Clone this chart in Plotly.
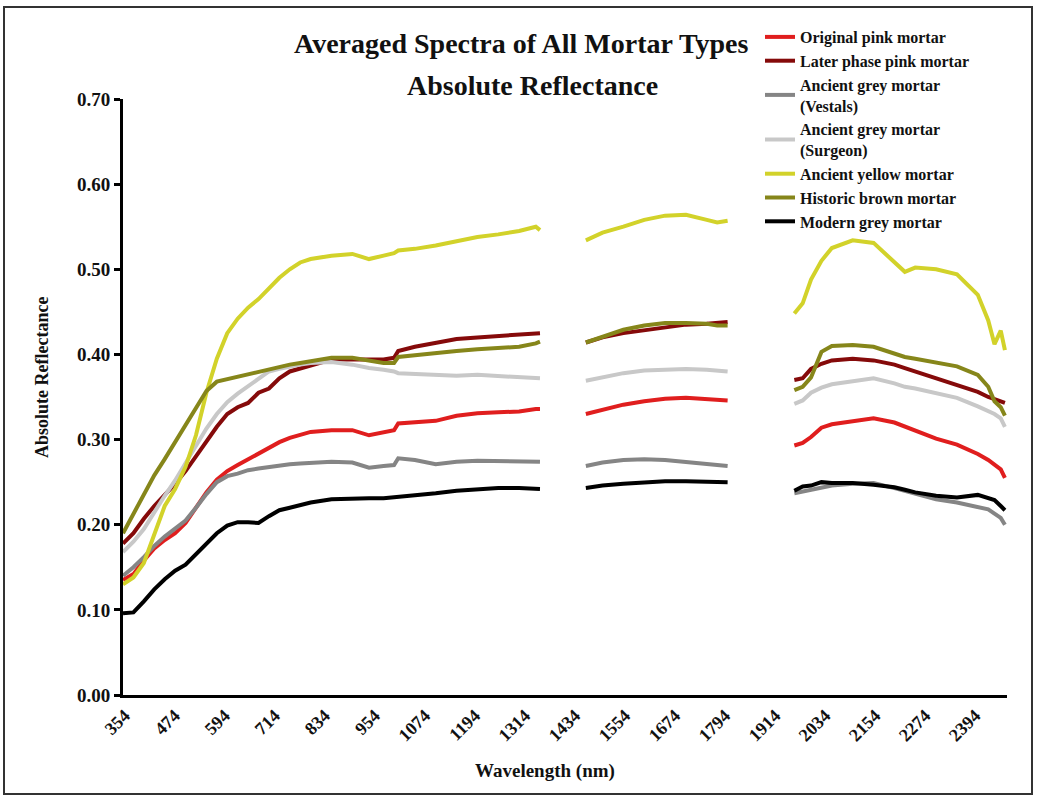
import plotly.graph_objects as go

# Wavelength grid (nm); None marks the removed water-absorption bands
wavelength = [350, 375, 400, 425, 450, 475, 500, 525, 550, 575, 600, 625, 650, 675, 700, 725, 750, 775, 800,
              850, 900, 940, 975, 1000, 1010, 1050, 1100, 1150, 1200, 1250, 1300, 1340, 1350,
              1400,
              1460, 1500, 1550, 1600, 1650, 1700, 1750, 1775, 1800,
              1880,
              1960, 1980, 2000, 2025, 2050, 2100, 2150, 2200, 2225, 2250, 2300, 2350, 2400, 2425, 2440, 2455, 2465]

original_pink = [0.135, 0.142, 0.158, 0.172, 0.182, 0.190, 0.202, 0.220, 0.238, 0.253, 0.263, 0.270, 0.277, 0.283, 0.290, 0.297, 0.302, 0.306, 0.309,
                 0.311, 0.311, 0.305, 0.309, 0.311, 0.319, 0.320, 0.322, 0.328, 0.331, 0.332, 0.333, 0.336, 0.336,
                 None,
                 0.330, 0.335, 0.341, 0.345, 0.348, 0.349, 0.348, 0.347, 0.346,
                 None,
                 0.293, 0.296, 0.303, 0.314, 0.318, 0.322, 0.325, 0.320, 0.315, 0.310, 0.301, 0.294, 0.283, 0.276, 0.270, 0.265, 0.255]

later_pink = [0.178, 0.190, 0.207, 0.222, 0.235, 0.248, 0.263, 0.280, 0.296, 0.315, 0.330, 0.338, 0.343, 0.355, 0.360, 0.372, 0.380, 0.384, 0.387,
              0.394, 0.394, 0.394, 0.394, 0.396, 0.404, 0.409, 0.414, 0.418, 0.420, 0.422, 0.424, 0.425, 0.425,
              None,
              0.414, 0.420, 0.425, 0.428, 0.432, 0.435, 0.436, 0.437, 0.438,
              None,
              0.370, 0.372, 0.383, 0.389, 0.393, 0.395, 0.393, 0.388, 0.384, 0.380, 0.371, 0.364, 0.356, 0.350, 0.347, 0.345, 0.343]

grey_vestals = [0.140, 0.150, 0.162, 0.175, 0.186, 0.195, 0.205, 0.220, 0.236, 0.250, 0.257, 0.260, 0.264, 0.266, 0.268, 0.270, 0.271, 0.272, 0.273,
                0.274, 0.273, 0.267, 0.269, 0.270, 0.278, 0.276, 0.271, 0.274, 0.275, 0.275, 0.275, 0.274, 0.274,
                None,
                0.269, 0.273, 0.276, 0.277, 0.276, 0.274, 0.272, 0.270, 0.269,
                None,
                0.237, 0.239, 0.242, 0.244, 0.246, 0.248, 0.249, 0.243, 0.240, 0.236, 0.230, 0.226, 0.221, 0.218, 0.213, 0.208, 0.200]

grey_surgeon = [0.168, 0.180, 0.195, 0.215, 0.234, 0.252, 0.272, 0.292, 0.313, 0.330, 0.344, 0.354, 0.363, 0.371, 0.380, 0.383, 0.386, 0.388, 0.390,
                0.391, 0.388, 0.384, 0.382, 0.380, 0.378, 0.377, 0.376, 0.375, 0.376, 0.375, 0.374, 0.373, 0.372,
                None,
                0.369, 0.373, 0.378, 0.381, 0.382, 0.383, 0.382, 0.381, 0.380,
                None,
                0.342, 0.346, 0.355, 0.361, 0.365, 0.369, 0.372, 0.366, 0.362, 0.360, 0.354, 0.349, 0.339, 0.334, 0.330, 0.325, 0.315]

yellow = [0.130, 0.138, 0.155, 0.190, 0.222, 0.242, 0.268, 0.305, 0.355, 0.395, 0.425, 0.442, 0.455, 0.465, 0.478, 0.490, 0.500, 0.508, 0.512,
          0.516, 0.518, 0.512, 0.516, 0.519, 0.522, 0.524, 0.528, 0.533, 0.538, 0.541, 0.545, 0.550, 0.546,
          None,
          0.534, 0.543, 0.550, 0.558, 0.563, 0.564, 0.558, 0.555, 0.557,
          None,
          0.448, 0.460, 0.488, 0.510, 0.525, 0.534, 0.531, 0.508, 0.497, 0.502, 0.500, 0.494, 0.470, 0.440, 0.412, 0.428, 0.405]

historic_brown = [0.190, 0.212, 0.235, 0.258, 0.277, 0.297, 0.316, 0.337, 0.357, 0.368, 0.371, 0.374, 0.377, 0.380, 0.383, 0.385, 0.388, 0.390, 0.392,
                  0.396, 0.396, 0.393, 0.390, 0.390, 0.397, 0.399, 0.402, 0.404, 0.406, 0.408, 0.409, 0.413, 0.415,
                  None,
                  0.414, 0.421, 0.429, 0.434, 0.437, 0.437, 0.436, 0.434, 0.434,
                  None,
                  0.358, 0.362, 0.373, 0.403, 0.410, 0.411, 0.409, 0.401, 0.397, 0.395, 0.391, 0.386, 0.376, 0.362, 0.345, 0.338, 0.328]

modern_grey = [0.096, 0.097, 0.110, 0.124, 0.136, 0.146, 0.153, 0.165, 0.178, 0.190, 0.199, 0.203, 0.203, 0.202, 0.210, 0.217, 0.220, 0.223, 0.226,
               0.230, 0.231, 0.231, 0.231, 0.232, 0.233, 0.234, 0.237, 0.240, 0.242, 0.243, 0.243, 0.243, 0.242,
               None,
               0.243, 0.246, 0.248, 0.250, 0.251, 0.251, 0.251, 0.250, 0.250,
               None,
               0.240, 0.245, 0.246, 0.250, 0.249, 0.249, 0.247, 0.244, 0.241, 0.238, 0.234, 0.232, 0.235, 0.232, 0.229, 0.222, 0.217]

series_names = ["Original pink mortar", "Later phase pink mortar", "Ancient grey mortar<br>(Vestals)",
                "Ancient grey mortar<br>(Surgeon)", "Ancient yellow mortar", "Historic brown mortar", "Modern grey mortar"]
series_values = [original_pink, later_pink, grey_vestals, grey_surgeon, yellow, historic_brown, modern_grey]
series_colors = ["#e01e1e", "#850a0a", "#858585", "#c8c8c8", "#d2d22a", "#86861a", "#000000"]

x_tick_vals = [354, 474, 594, 714, 834, 954, 1074, 1194, 1314, 1434, 1554, 1674, 1794, 1914, 2034, 2154, 2274, 2394]
y_tick_vals = [0.0, 0.1, 0.2, 0.3, 0.4, 0.5, 0.6, 0.7]

FONT = "Liberation Serif, Times New Roman, DejaVu Serif, serif"
INK = "#111111"

# plot area in pixels: x 123..1007, y 99..695
def px_x(p):
    return (p - 123) / 884

def px_y(p):
    return (695 - p) / 596

fig = go.Figure()
for name, vals, col in zip(series_names, series_values, series_colors):
    fig.add_trace(go.Scatter(x=wavelength, y=vals, mode="lines", name="<b>" + name.replace("<br>", "</b><br><b>") + "</b>",
                             line=dict(color=col, width=4), connectgaps=False))

fig.update_layout(
    width=1037, height=797,
    margin=dict(l=123, r=30, t=99, b=102),
    paper_bgcolor="white", plot_bgcolor="white",
    font=dict(family=FONT, color=INK),
    showlegend=True,
    legend=dict(x=px_x(760), y=px_y(20), xanchor="left", yanchor="top", bgcolor="rgba(0,0,0,0)",
                font=dict(family=FONT, size=16, color=INK), tracegroupgap=0, itemwidth=30),
    xaxis=dict(range=[350, 2470], tickvals=x_tick_vals, ticktext=["<b>%d</b>" % v for v in x_tick_vals],
               tickangle=-45, showline=True, linecolor="black", linewidth=3, ticks="",
               showgrid=False, zeroline=False,
               tickfont=dict(family=FONT, size=18, color=INK)),
    yaxis=dict(range=[0, 0.70], tickvals=y_tick_vals, ticktext=["<b>%.2f</b>" % v for v in y_tick_vals],
               showline=True, linecolor="black", linewidth=3, ticks="outside", ticklen=6, tickwidth=3,
               tickcolor="black", showgrid=False, zeroline=False,
               tickfont=dict(family=FONT, size=19, color=INK)),
    annotations=[
        dict(text="<b>Averaged Spectra of All Mortar Types</b>", xref="paper", yref="paper",
             x=px_x(521), y=px_y(44), xanchor="center", yanchor="middle", showarrow=False,
             font=dict(family=FONT, size=28, color=INK)),
        dict(text="<b>Absolute Reflectance</b>", xref="paper", yref="paper",
             x=px_x(532), y=px_y(85), xanchor="center", yanchor="middle", showarrow=False,
             font=dict(family=FONT, size=28, color=INK)),
        dict(text="<b>Wavelength (nm)</b>", xref="paper", yref="paper",
             x=px_x(545), y=px_y(771), xanchor="center", yanchor="middle", showarrow=False,
             font=dict(family=FONT, size=19, color=INK)),
        dict(text="<b>Absolute Reflectance</b>", xref="paper", yref="paper", textangle=-90,
             x=px_x(42), y=px_y(378), xanchor="center", yanchor="middle", showarrow=False,
             font=dict(family=FONT, size=18, color=INK)),
    ],
    shapes=[dict(type="rect", xref="paper", yref="paper",
                 x0=px_x(4), x1=px_x(1032), y0=px_y(794), y1=px_y(7),
                 line=dict(color="#333333", width=2), fillcolor="rgba(0,0,0,0)", layer="below")],
)

fig.write_html("out.html")
